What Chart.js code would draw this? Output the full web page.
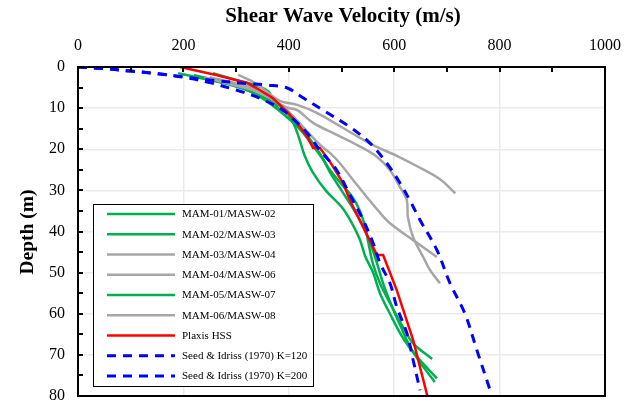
<!DOCTYPE html>
<html>
<head>
<meta charset="utf-8">
<script src="https://cdn.jsdelivr.net/npm/chart.js@4.4.1/dist/chart.umd.min.js"></script>
<style>
  html, body { margin: 0; padding: 0; background: #ffffff; }
  #wrap { width: 634px; height: 402px; position: relative; }
</style>
</head>
<body>
<div id="wrap"><canvas id="c" width="634" height="402"></canvas></div>
<script>
// ---- Data (Vs in m/s, depth in m) ----
const xTickValues = [0, 200, 400, 600, 800, 1000];
const yTickValues = [0, 10, 20, 30, 40, 50, 60, 70, 80];

const mam01V = [190, 240, 290, 330, 370, 400, 421, 440, 459, 475, 500, 520, 535, 545, 553, 560, 573, 592, 617, 636, 672];
const mam01D = [1.5, 2.9, 4.4, 6.1, 8.5, 11, 14, 17.5, 21, 24.5, 28.5, 31.5, 35, 39, 44, 48, 52.6, 57.4, 63.3, 67.2, 71];

const mam02V = [256, 302, 340, 362, 370, 380, 395, 410, 420, 430, 445, 470, 500, 520, 535, 545, 560, 573, 592, 617, 640, 681];
const mam02D = [1.5, 3.2, 4.6, 6, 8.2, 10, 11, 14, 17.5, 21.5, 25.5, 30, 34, 38, 42, 46, 50, 55, 60, 66, 70, 75.7];

const mam03V = [304, 332, 359, 384, 416, 454, 516, 560, 605, 649, 687, 716];
const mam03D = [1.9, 3.6, 6.1, 8.3, 9.2, 11.2, 15.8, 19, 21.6, 24.5, 27.3, 30.7];

const mam04V = [250, 300, 340, 370, 400, 430, 460, 478, 497, 522, 548, 570, 592, 636, 681];
const mam04D = [2.5, 4, 5.5, 8, 11, 15, 19, 20.9, 23.4, 27.5, 31.6, 35, 38, 42.1, 46.2];

const mam05V = [220, 270, 320, 360, 390, 420, 445, 465, 480, 500, 520, 540, 555, 568, 580, 595, 612, 630, 650, 677];
const mam05D = [2, 3.5, 5.5, 8.5, 11.5, 15, 19, 22.5, 26, 30, 34, 38.5, 43, 48, 53, 58, 63, 68, 72, 76.6];

const mam06V = [240, 290, 340, 370, 395, 416, 446, 491, 530, 567, 592, 611, 624, 626, 636, 655, 668, 687];
const mam06D = [2.5, 4.2, 6, 8, 9.8, 10.5, 13.6, 16.5, 19, 21.8, 25.1, 29.2, 32.4, 36.5, 41.4, 46.2, 49.4, 52.6];

const plaxisV = [194, 264, 321, 345, 370, 397, 416, 435, 446, 459, 478, 503, 516, 541, 560, 567, 579, 605, 636, 663];
const plaxisD = [0, 2, 3.9, 5.6, 7.6, 10.9, 13.6, 17, 19.7, 19.7, 23, 28.2, 32.4, 38.9, 43.8, 45.7, 45.7, 54.3, 66.4, 80];

const seed120V = [0, 50, 100, 150, 200, 250, 300, 345, 389, 416, 435, 459, 491, 516, 541, 560, 573, 592, 605, 624, 636, 649];
const seed120D = [0, 0.4, 1.0, 1.6, 2.5, 3.8, 5.6, 7.6, 10.5, 13.6, 16.1, 20.2, 25.1, 31.1, 37.2, 42.8, 47.7, 52.6, 58.4, 64.7, 71.3, 78.6];

const seed200V = [0, 50, 100, 150, 200, 260, 320, 360, 397, 421, 465, 516, 554, 586, 611, 630, 649, 681, 706, 734, 757, 782];
const seed200D = [0, 0.4, 1.0, 1.6, 2.4, 3.3, 4.0, 4.4, 5.1, 7.0, 10.5, 14.6, 18.5, 23.4, 28.2, 32.5, 37.2, 44.5, 52.6, 59.9, 68.9, 78.6];

const seriesNames = [
  'MAM-01/MASW-02', 'MAM-02/MASW-03', 'MAM-03/MASW-04', 'MAM-04/MASW-06',
  'MAM-05/MASW-07', 'MAM-06/MASW-08', 'Plaxis HSS',
  'Seed & Idriss (1970) K=120', 'Seed & Idriss (1970) K=200'
];

// ---- build ----
const pts = (vs, ds) => vs.map((v, i) => ({ x: v, y: ds[i] }));
const GREEN = '#00B050', GRAY = '#A6A6A6', RED = '#FF0000', BLUE = '#0000FF';
const styles = [
  { c: GREEN, d: [] }, { c: GREEN, d: [] }, { c: GRAY, d: [] }, { c: GRAY, d: [] },
  { c: GREEN, d: [] }, { c: GRAY, d: [] }, { c: RED, d: [] },
  { c: BLUE, d: [9, 7] }, { c: BLUE, d: [9, 7] }
];
const seriesData = [
  pts(mam01V, mam01D), pts(mam02V, mam02D), pts(mam03V, mam03D), pts(mam04V, mam04D),
  pts(mam05V, mam05D), pts(mam06V, mam06D), pts(plaxisV, plaxisD),
  pts(seed120V, seed120D), pts(seed200V, seed200D)
];

const datasets = seriesData.map((data, i) => ({
  label: seriesNames[i],
  data: data,
  showLine: true,
  borderColor: styles[i].c,
  backgroundColor: styles[i].c,
  borderWidth: styles[i].d.length ? 3 : 2.5,
  borderDash: styles[i].d,
  pointRadius: 0,
  pointHoverRadius: 0,
  tension: i === 6 ? 0 : 0.35,
  fill: false,
  order: 20 - i
}));

const SERIF = '"Liberation Serif", "Times New Roman", serif';

const decor = {
  id: 'decor',
  afterDraw(chart) {
    const ctx = chart.ctx;
    const a = chart.chartArea;
    const xs = chart.scales.x, ys = chart.scales.y;
    ctx.save();
    // frame
    ctx.strokeStyle = '#000';
    ctx.lineWidth = 2;
    ctx.strokeRect(a.left, a.top, a.right - a.left, a.bottom - a.top);
    // ticks (inward)
    ctx.lineWidth = 2;
    ctx.beginPath();
    for (let v = 100; v < 1000; v += 100) {
      const px = Math.round(xs.getPixelForValue(v));
      ctx.moveTo(px, a.top);
      ctx.lineTo(px, a.top + 5);
    }
    for (let d = 5; d < 80; d += 5) {
      const py = Math.round(ys.getPixelForValue(d));
      ctx.moveTo(a.left, py);
      ctx.lineTo(a.left + 5, py);
    }
    ctx.stroke();
    // titles
    ctx.fillStyle = '#000';
    ctx.font = 'bold 21px ' + SERIF;
    ctx.textAlign = 'center';
    ctx.textBaseline = 'middle';
    ctx.fillText('Shear Wave Velocity (m/s)', 343, 17);
    ctx.save();
    ctx.translate(28, 232);
    ctx.rotate(-Math.PI / 2);
    ctx.font = 'bold 19.5px ' + SERIF;
    ctx.fillText('Depth (m)', 0, 0);
    ctx.restore();
    // legend
    const bx = 93, by = 204, bw = 220, bh = 182;
    ctx.fillStyle = '#fff';
    ctx.fillRect(bx, by, bw, bh);
    ctx.strokeStyle = '#000';
    ctx.lineWidth = 1;
    ctx.strokeRect(bx + 0.5, by + 0.5, bw, bh);
    ctx.font = '11px ' + SERIF;
    ctx.textAlign = 'left';
    ctx.textBaseline = 'middle';
    chart.data.datasets.forEach((ds, i) => {
      const y = 214 + i * 20.25;
      ctx.strokeStyle = ds.borderColor;
      ctx.lineWidth = ds.borderWidth;
      ctx.setLineDash(ds.borderDash);
      ctx.beginPath();
      ctx.moveTo(107, y);
      ctx.lineTo(175, y);
      ctx.stroke();
      ctx.setLineDash([]);
      ctx.fillStyle = '#000';
      ctx.fillText(ds.label, 182, y + 0.5);
    });
    ctx.restore();
  }
};

new Chart(document.getElementById('c'), {
  type: 'scatter',
  data: { datasets },
  options: {
    responsive: false,
    animation: false,
    devicePixelRatio: 1,
    layout: { padding: { left: 0, top: 0, right: 29, bottom: 6 } },
    plugins: { legend: { display: false }, tooltip: { enabled: false }, title: { display: false } },
    scales: {
      x: {
        type: 'linear', position: 'top', min: 0, max: 1000,
        afterBuildTicks: s => { s.ticks = xTickValues.map(v => ({ value: v })); },
        afterFit: s => { s.height = 67; s.paddingLeft = 0; s.paddingRight = 0; },
        grid: { color: '#ebebeb', lineWidth: 1.5, drawTicks: false },
        border: { display: false },
        ticks: { color: '#000', font: { family: SERIF, size: 16 }, padding: 12, maxRotation: 0,
                 callback: v => String(v) }
      },
      y: {
        type: 'linear', reverse: true, min: 0, max: 80,
        afterBuildTicks: s => { s.ticks = yTickValues.map(v => ({ value: v })); },
        afterFit: s => { s.width = 78; s.paddingTop = 0; s.paddingBottom = 0; },
        grid: { color: '#ebebeb', lineWidth: 1.5, drawTicks: false },
        border: { display: false },
        ticks: { color: '#000', font: { family: SERIF, size: 16 }, padding: 13,
                 callback: v => String(v) }
      }
    }
  },
  plugins: [decor]
});
</script>
</body>
</html>
